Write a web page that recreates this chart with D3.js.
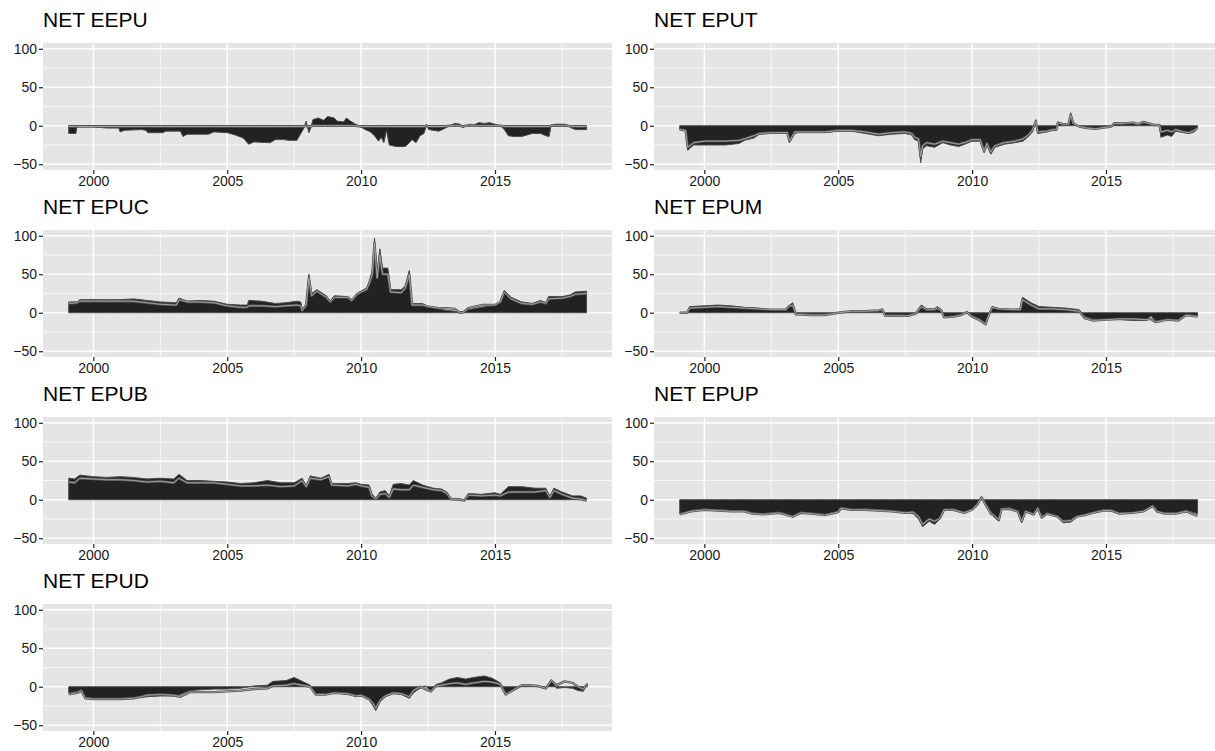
<!DOCTYPE html>
<html><head><meta charset="utf-8">
<script src="https://cdn.jsdelivr.net/npm/d3@7"></script>
<style>body{margin:0;background:#fff} svg{display:block}</style>
</head><body><svg id="c" width="1215" height="751"></svg>
<script>
const titles = ["NET EEPU","NET EPUT","NET EPUC","NET EPUM","NET EPUB","NET EPUP","NET EPUD"];
const xTicks = [2000,2005,2010,2015];
const xMinor = [2002.5,2007.5,2012.5,2017.5];
const yTicks = [-50,0,50,100];
const yMinor = [-25,25,75];

// [year, net (area), comparison (line)]
const eepu = [[1999.08,-10,-1],[1999.35,-10,-1],[1999.38,-1,-1],[2000.0,-1,-1],[2000.2,-2,-1],[2000.5,-3,-1],[2000.95,-3,-1],[2001.0,-8,-1],[2001.15,-6,-1],[2001.8,-5,-1],[2001.95,-6,-1],[2002.05,-9,-1],[2002.6,-9,-1],[2002.7,-7,-1],[2003.25,-7,-1],[2003.35,-14,-1],[2003.5,-11,-1],[2004.3,-11,-1],[2004.5,-8,-1],[2005.0,-9,-1],[2005.3,-12,-1],[2005.6,-16,-1],[2005.8,-24,-1],[2006.0,-21,-1],[2006.6,-22,-1],[2006.8,-18,-1],[2007.1,-18,-1],[2007.3,-19,-1],[2007.6,-19,-1],[2007.7,-13,-1],[2007.85,-4,-1],[2007.95,6,0],[2008.0,-2,-1],[2008.05,-9,-1],[2008.12,-3,-1],[2008.2,8,0],[2008.4,10,0],[2008.6,7,0],[2008.75,12,0],[2009.0,10,0],[2009.1,6,0],[2009.35,5,0],[2009.45,10,0],[2009.6,6,0],[2009.8,2,0],[2010.0,-2,-1],[2010.15,-5,-1],[2010.35,-8,-1],[2010.5,-13,-1],[2010.65,-20,-1],[2010.75,-15,-1],[2010.85,-22,-1],[2010.95,-6,-1],[2011.05,-25,-1],[2011.3,-27,-1],[2011.65,-27,-1],[2011.8,-22,-1],[2011.9,-18,-1],[2012.05,-22,-1],[2012.2,-13,-1],[2012.35,-10,-1],[2012.45,2,0],[2012.52,-5,-1],[2012.9,-7,-1],[2013.1,-4,-1],[2013.3,0,0],[2013.5,3,0],[2013.7,2,0],[2013.8,-3,-1],[2013.9,0,0],[2014.05,2,0],[2014.2,1,0],[2014.4,4,0],[2014.6,3,0],[2014.8,4,0],[2015.0,2,0],[2015.2,0,0],[2015.35,-5,-1],[2015.5,-13,-1],[2015.7,-14,-1],[2016.0,-14,-1],[2016.2,-12,-1],[2016.4,-10,-1],[2016.7,-10,-1],[2016.9,-13,-1],[2017.02,-14,-1],[2017.1,1,0],[2017.25,2,0],[2017.6,2,0],[2017.7,1,0],[2017.85,-3,-1],[2018.0,-5,-1],[2018.42,-5,-1]];

const eput = [[1999.08,-5,-5],[1999.3,-6,-6],[1999.38,-32,-28],[1999.6,-25,-22],[2000.0,-25,-20],[2000.8,-25,-20],[2001.3,-23,-19],[2001.5,-19,-17],[2001.85,-16,-13],[2002.05,-11,-10],[2002.5,-10,-9],[2003.1,-10,-9],[2003.18,-22,-20],[2003.38,-10,-8],[2003.5,-9,-8],[2004.5,-9,-8],[2005.0,-7,-6],[2005.5,-7,-6],[2006.0,-10,-8],[2006.5,-13,-11],[2007.0,-11,-9],[2007.5,-10,-8],[2007.75,-12,-10],[2007.85,-18,-15],[2008.0,-20,-17],[2008.08,-48,-40],[2008.15,-30,-26],[2008.3,-26,-22],[2008.6,-28,-24],[2008.9,-22,-20],[2009.2,-25,-22],[2009.5,-27,-24],[2009.8,-23,-21],[2010.0,-20,-18],[2010.3,-20,-18],[2010.45,-35,-33],[2010.55,-25,-23],[2010.7,-37,-34],[2010.85,-28,-26],[2011.2,-24,-22],[2011.6,-22,-20],[2011.9,-20,-17],[2012.1,-14,-12],[2012.25,-8,-6],[2012.38,8,6],[2012.45,-10,-8],[2012.8,-8,-7],[2013.0,-6,-5],[2013.15,-6,-5],[2013.2,5,4],[2013.4,2,2],[2013.6,2,2],[2013.68,17,14],[2013.78,3,3],[2014.0,-1,-1],[2014.3,-3,-3],[2014.6,-4,-4],[2015.0,-2,-2],[2015.2,-1,-1],[2015.3,4,3],[2015.6,3,3],[2016.0,4,4],[2016.2,2,2],[2016.4,4,5],[2016.8,1,1],[2017.0,1,1],[2017.05,-15,-8],[2017.3,-12,-6],[2017.45,-14,-8],[2017.6,-7,-5],[2017.9,-9,-8],[2018.1,-10,-9],[2018.3,-8,-6],[2018.42,-3,-3]];

const epuc = [[1999.08,14,12],[1999.4,14,13],[1999.5,17,15],[2000.5,17,15],[2001.0,17,15],[2001.5,18,15],[2002.0,16,13],[2002.5,14,11],[2003.1,13,10],[2003.2,19,17],[2003.5,15,14],[2004.0,16,14],[2004.5,15,13],[2005.0,11,9],[2005.5,10,7],[2005.75,10,7],[2005.8,16,9],[2006.3,15,9],[2006.8,12,8],[2007.2,13,9],[2007.6,15,10],[2007.75,14,9],[2007.8,2,3],[2007.95,12,10],[2008.05,50,45],[2008.15,25,22],[2008.35,30,28],[2008.7,22,20],[2008.85,15,14],[2009.0,22,20],[2009.5,21,20],[2009.65,17,16],[2009.85,25,24],[2010.0,28,27],[2010.2,32,30],[2010.3,40,38],[2010.42,55,50],[2010.5,97,90],[2010.6,50,45],[2010.7,83,75],[2010.8,58,50],[2011.0,58,50],[2011.1,30,27],[2011.5,30,26],[2011.65,35,32],[2011.8,55,50],[2011.9,12,10],[2012.3,12,10],[2012.5,8,8],[2012.9,5,6],[2013.2,3,6],[2013.5,2,5],[2013.7,1,0],[2013.85,2,1],[2014.0,4,6],[2014.5,7,10],[2015.0,10,10],[2015.2,14,14],[2015.35,29,27],[2015.6,20,18],[2016.0,14,12],[2016.4,12,11],[2016.7,16,14],[2016.9,13,12],[2017.0,21,18],[2017.5,21,19],[2017.8,23,21],[2018.0,27,24],[2018.42,28,25]];

const epum = [[1999.08,0,0],[1999.35,0,0],[1999.45,8,6],[2000.0,9,7],[2000.5,10,8],[2001.0,9,7],[2001.5,7,6],[2002.0,6,5],[2002.5,4,4],[2003.05,4,4],[2003.15,9,8],[2003.3,13,10],[2003.42,-1,-2],[2004.0,-2,-3],[2004.5,-2,-3],[2005.0,0,0],[2005.5,2,2],[2006.0,2,2],[2006.5,3,3],[2006.65,5,4],[2006.75,-3,-4],[2007.3,-3,-4],[2007.6,-4,-4],[2007.9,-1,-1],[2008.1,10,8],[2008.3,5,4],[2008.6,5,4],[2008.7,8,6],[2008.85,4,3],[2008.95,-6,-6],[2009.3,-5,-5],[2009.6,-3,-3],[2009.8,0,1],[2010.0,-4,-5],[2010.3,-8,-10],[2010.5,-14,-15],[2010.6,-4,-5],[2010.75,8,7],[2011.0,5,5],[2011.5,4,4],[2011.8,5,4],[2011.88,20,17],[2012.2,13,10],[2012.5,8,5],[2013.0,7,5],[2013.5,6,4],[2014.0,4,2],[2014.2,-5,-7],[2014.5,-8,-10],[2015.0,-9,-9],[2015.5,-9,-8],[2016.0,-10,-8],[2016.5,-10,-9],[2016.68,-4,-8],[2016.85,-11,-12],[2017.3,-9,-9],[2017.7,-9,-10],[2018.0,-3,-3],[2018.42,-4,-5]];

const epub = [[1999.08,28,23],[1999.3,27,22],[1999.5,32,28],[2000.0,30,27],[2000.5,29,26],[2001.0,30,26],[2001.5,29,25],[2002.0,27,23],[2002.5,28,24],[2003.0,27,22],[2003.2,33,28],[2003.5,25,22],[2004.0,25,22],[2004.5,24,22],[2005.0,23,20],[2005.5,21,18],[2006.0,22,18],[2006.5,25,19],[2007.0,22,17],[2007.5,22,18],[2007.8,28,25],[2007.95,18,17],[2008.1,31,28],[2008.5,28,26],[2008.8,33,30],[2008.9,21,19],[2009.5,21,18],[2009.8,22,20],[2010.0,20,18],[2010.3,19,16],[2010.4,8,5],[2010.55,2,1],[2010.7,10,7],[2010.9,12,8],[2011.05,5,3],[2011.2,20,14],[2011.5,21,13],[2011.8,19,13],[2011.95,25,19],[2012.3,19,16],[2012.7,15,13],[2013.0,14,12],[2013.2,10,8],[2013.35,2,1],[2013.7,1,0],[2013.85,-1,-1],[2014.0,8,6],[2014.5,7,5],[2015.0,9,6],[2015.2,7,5],[2015.5,17,10],[2016.0,17,10],[2016.5,15,10],[2016.9,15,12],[2017.05,4,3],[2017.2,15,12],[2017.5,10,7],[2017.9,5,2],[2018.2,5,1],[2018.42,2,-1]];

const epup = [[1999.08,-18,-19],[1999.5,-14,-15],[2000.0,-12,-13],[2000.5,-13,-14],[2001.0,-14,-15],[2001.5,-14,-15],[2001.8,-17,-18],[2002.2,-18,-19],[2002.8,-16,-17],[2003.3,-21,-22],[2003.6,-16,-17],[2004.0,-17,-18],[2004.5,-19,-20],[2005.0,-15,-16],[2005.1,-10,-11],[2005.5,-13,-13],[2006.0,-12,-13],[2006.5,-13,-14],[2007.0,-14,-15],[2007.5,-16,-17],[2007.8,-18,-16],[2008.0,-25,-22],[2008.15,-35,-32],[2008.4,-28,-25],[2008.6,-32,-28],[2008.8,-25,-24],[2008.95,-14,-13],[2009.3,-12,-13],[2009.7,-16,-17],[2010.0,-12,-13],[2010.2,-5,-6],[2010.35,4,3],[2010.5,-6,-6],[2010.7,-15,-18],[2010.8,-22,-20],[2011.0,-28,-26],[2011.1,-12,-12],[2011.4,-10,-12],[2011.7,-15,-15],[2011.85,-30,-28],[2012.0,-15,-15],[2012.3,-20,-19],[2012.45,-10,-11],[2012.6,-24,-23],[2012.8,-18,-18],[2013.2,-22,-22],[2013.4,-30,-28],[2013.7,-29,-27],[2013.9,-22,-22],[2014.2,-19,-20],[2014.5,-17,-17],[2014.9,-13,-14],[2015.2,-13,-14],[2015.5,-17,-18],[2016.0,-17,-17],[2016.4,-15,-15],[2016.75,-8,-8],[2016.9,-16,-15],[2017.2,-17,-18],[2017.6,-17,-18],[2018.0,-14,-15],[2018.42,-18,-21]];

const epud = [[1999.08,-8,-10],[1999.4,-6,-8],[1999.55,-4,-5],[1999.7,-14,-15],[2000.0,-15,-16],[2000.5,-15,-16],[2001.0,-15,-16],[2001.5,-14,-15],[2001.8,-14,-13],[2002.0,-13,-11],[2002.5,-12,-10],[2003.0,-12,-11],[2003.25,-10,-13],[2003.6,-5,-7],[2004.0,-4,-7],[2004.5,-3,-7],[2005.0,-3,-6],[2005.5,-2,-5],[2006.0,1,-3],[2006.5,2,-2],[2006.7,7,1],[2007.2,8,2],[2007.5,12,4],[2007.8,7,2],[2008.1,2,0],[2008.3,-10,-10],[2008.7,-9,-10],[2009.0,-8,-8],[2009.5,-10,-9],[2009.8,-12,-12],[2010.0,-12,-11],[2010.3,-17,-16],[2010.45,-25,-22],[2010.55,-31,-28],[2010.7,-20,-18],[2010.9,-13,-12],[2011.2,-9,-8],[2011.5,-10,-9],[2011.8,-15,-13],[2011.95,-8,-5],[2012.2,-2,0],[2012.4,1,-3],[2012.6,-5,-6],[2012.8,3,1],[2013.0,5,2],[2013.3,10,4],[2013.6,12,5],[2013.9,10,3],[2014.2,12,5],[2014.6,14,7],[2014.9,11,6],[2015.2,5,3],[2015.4,-9,-10],[2015.7,-5,-4],[2016.0,1,2],[2016.3,2,2],[2016.6,1,1],[2016.9,-3,-2],[2017.1,9,8],[2017.3,-2,2],[2017.6,-1,7],[2017.9,-2,5],[2018.1,-5,0],[2018.3,-6,-3],[2018.45,4,4]];

const series = [eepu, eput, epuc, epum, epub, epup, epud];

const svg = d3.select("#c");
const W = 569, H = 127;
const colStep = 611, rowStep = 187;
const FONT = "Liberation Sans, Arial, Helvetica, sans-serif";

series.forEach((data, i) => {
  const col = i % 2, row = Math.floor(i / 2);
  const px = 43 + col * colStep, py = 43 + row * rowStep;
  const x = d3.scaleLinear().domain([1998.12, 2019.37]).range([0, W]);
  const y = d3.scaleLinear().domain([-57.5, 107.5]).range([H, 0]);
  const g = svg.append("g").attr("transform", `translate(${px},${py})`);

  g.append("rect").attr("width", W).attr("height", H).attr("fill", "#E5E5E5");
  g.selectAll(".xm").data(xMinor).join("line")
    .attr("x1", d => x(d)).attr("x2", d => x(d)).attr("y1", 0).attr("y2", H)
    .attr("stroke", "#fff").attr("stroke-width", 0.7);
  g.selectAll(".ym").data(yMinor).join("line")
    .attr("y1", d => y(d)).attr("y2", d => y(d)).attr("x1", 0).attr("x2", W)
    .attr("stroke", "#fff").attr("stroke-width", 0.7);
  g.selectAll(".xM").data(xTicks).join("line")
    .attr("x1", d => x(d)).attr("x2", d => x(d)).attr("y1", 0).attr("y2", H)
    .attr("stroke", "#fff").attr("stroke-width", 1.4);
  g.selectAll(".yM").data(yTicks).join("line")
    .attr("y1", d => y(d)).attr("y2", d => y(d)).attr("x1", 0).attr("x2", W)
    .attr("stroke", "#fff").attr("stroke-width", 1.4);

  const area = d3.area().x(d => x(d[0])).y0(y(0)).y1(d => y(d[1]));
  g.append("path").datum(data).attr("d", area)
    .attr("fill", "#222").attr("stroke", "#4a4a4a").attr("stroke-width", 1);
  const line = d3.line().x(d => x(d[0])).y(d => y(d[2]));
  g.append("path").datum(data).attr("d", line)
    .attr("fill", "none").attr("stroke", "#555").attr("stroke-width", 2.4).attr("stroke-linejoin", "round");
  g.append("path").datum(data).attr("d", line)
    .attr("fill", "none").attr("stroke", "#a0a0a0").attr("stroke-width", 1).attr("stroke-linejoin", "round");

  const xa = g.append("g").attr("transform", `translate(0,${H})`)
    .call(d3.axisBottom(x).tickValues(xTicks).tickFormat(d3.format("d")).tickSize(4).tickPadding(2));
  const ya = g.append("g")
    .call(d3.axisLeft(y).tickValues(yTicks).tickSize(4).tickPadding(2));
  [xa, ya].forEach(a => {
    a.select(".domain").remove();
    a.selectAll("line").attr("stroke", "#222").attr("stroke-width", 1.2);
    a.selectAll("text").attr("fill", "#1a1a1a").style("font-family", FONT).style("font-size", "14px");
  });

  g.append("text").attr("x", 0).attr("y", -16).text(titles[i])
    .style("font-family", FONT).style("font-size", "21px").attr("fill", "#000");
});
</script>
</body></html>
